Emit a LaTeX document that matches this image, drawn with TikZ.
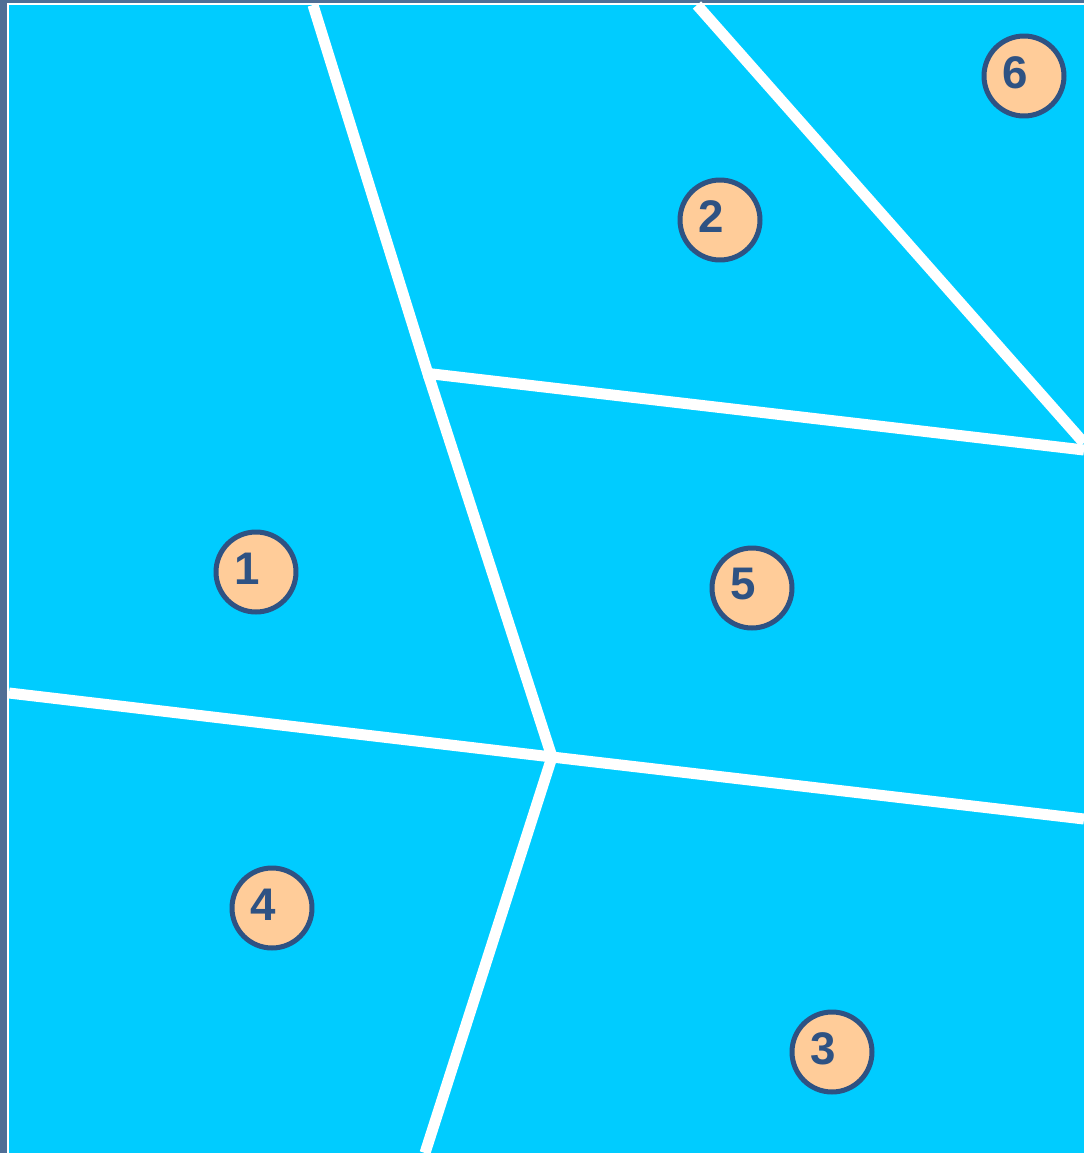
\documentclass[tikz,border=0pt]{standalone}
\usepackage{fontspec}
\setmainfont{Liberation Sans}
\definecolor{frame}{HTML}{4F6E96}
\definecolor{sea}{HTML}{00CCFF}
\definecolor{peach}{HTML}{FFCC99}
\definecolor{ink}{HTML}{2E5283}
\tikzset{
  border/.style={white, line width=0.22cm},
  zone/.style={circle, draw=ink, fill=peach, line width=0.1cm, minimum size=1.6cm, inner sep=0pt},
  num/.style={text=ink, font=\fontsize{26}{26}\selectfont\bfseries, inner sep=0pt}
}
\begin{document}
\begin{tikzpicture}[x=0.02cm, y=-0.02cm]
    \useasboundingbox (0,0) rectangle (1084,1153);
    \fill[frame] (0,0) rectangle (1084,1153);
    \fill[white] (7,3) rectangle (1084,1153);
    \fill[sea] (9,5) rectangle (1084,1153);
    % ends and crossings of the borders
    \coordinate (atop) at (313,5);
    \coordinate (ctop) at (697,5);
    \coordinate (up) at (428,374);
    \coordinate (bleft) at (424,373);
    \coordinate (mid) at (552,757);
    \coordinate (abot) at (425,1153);
    \coordinate (bright) at (1084,450);
    \coordinate (cright) at (1084,443);
    \coordinate (dleft) at (9,693);
    \coordinate (dright) at (1084,819);
    \draw[border] (atop) -- (up) -- (mid) -- (abot);
    \draw[border] (bleft) -- (bright);
    \draw[border] (ctop) -- (cright);
    \draw[border] (dleft) -- (mid) -- (dright);
    % numbered zones
    \node[zone] (z1) at (256,572) {};
    \node[zone] (z2) at (720,220) {};
    \node[zone] (z3) at (832,1052) {};
    \node[zone] (z4) at (272,908) {};
    \node[zone] (z5) at (752,588) {};
    \node[zone] (z6) at (1024,76) {};
    \node[num] (n1) at ([xshift=-0.18cm, yshift=0.07cm]z1.center) {1};
    \node[num] (n2) at ([xshift=-0.18cm, yshift=0.07cm]z2.center) {2};
    \node[num] (n3) at ([xshift=-0.18cm, yshift=0.07cm]z3.center) {3};
    \node[num] (n4) at ([xshift=-0.18cm, yshift=0.07cm]z4.center) {4};
    \node[num] (n5) at ([xshift=-0.18cm, yshift=0.07cm]z5.center) {5};
    \node[num] (n6) at ([xshift=-0.18cm, yshift=0.07cm]z6.center) {6};
\end{tikzpicture}
\end{document}
